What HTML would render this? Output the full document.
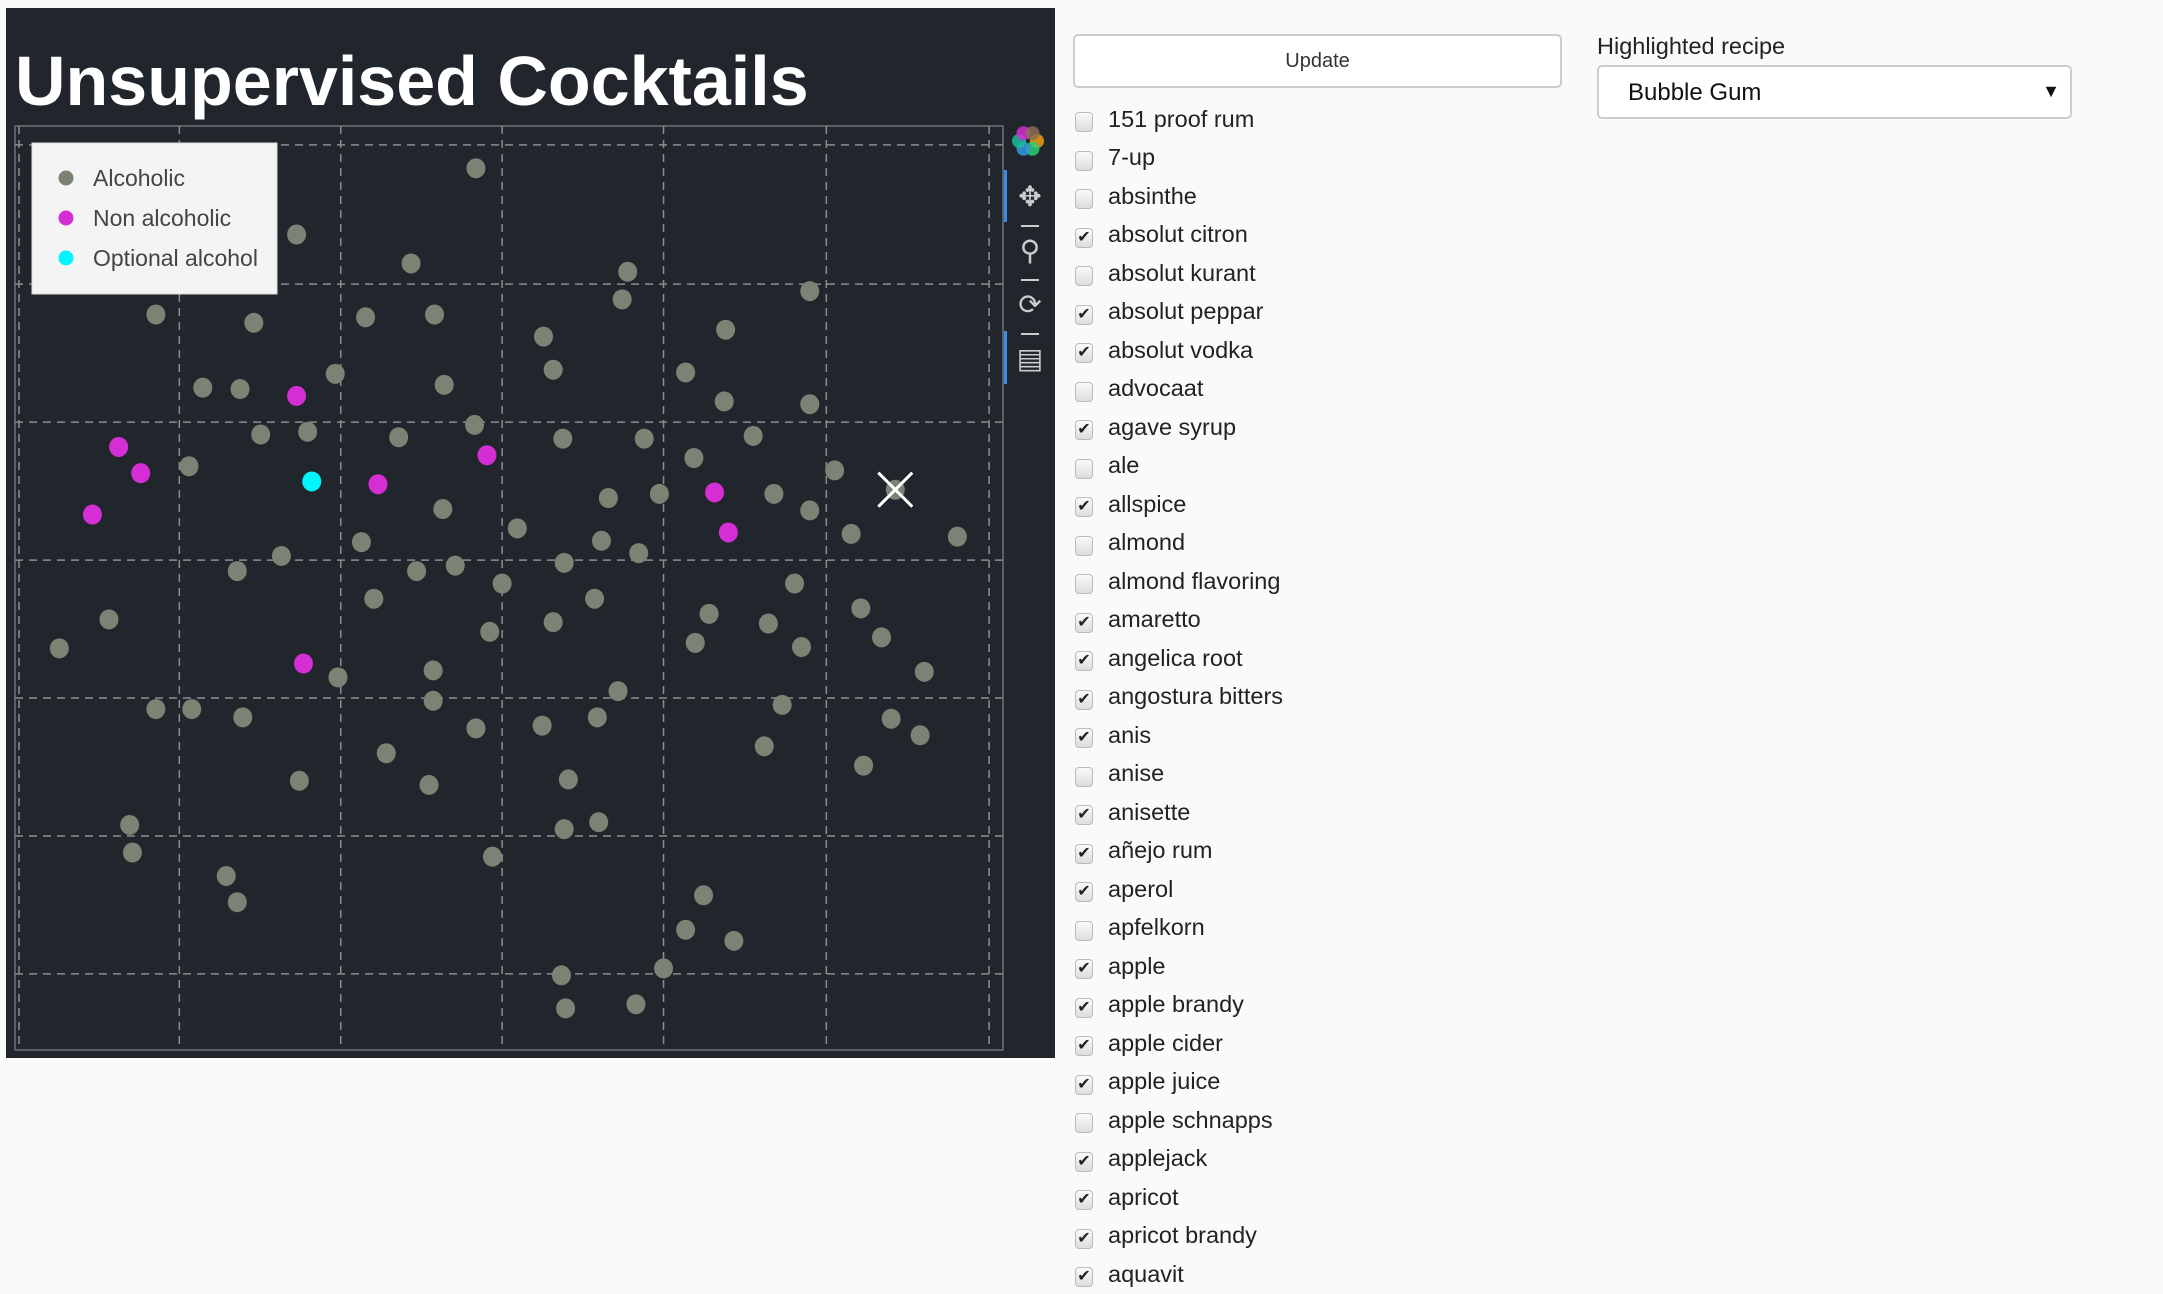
<!DOCTYPE html>
<html><head><meta charset="utf-8">
<style>
body{margin:0;background:#fafafa;width:2163px;height:1274px;overflow:hidden;font-family:"Liberation Sans",sans-serif;position:relative}
#panel{position:absolute;left:6px;top:8px;width:1049px;height:1050px;background:#20262b}
#title{position:absolute;left:9px;top:33px;font:bold 70px "Liberation Sans",sans-serif;color:#fff;white-space:nowrap;margin:0}
#chart{position:absolute;left:0;top:0}
#upd{position:absolute;left:1073px;top:34px;width:489px;height:54px;border:2px solid #ccc;border-radius:5px;background:#fff;font-size:20px;color:#333;box-sizing:border-box}
#list{position:absolute;left:1073px;top:100px}
.it{height:38.5px;display:flex;align-items:center;font-size:23.5px;color:#222}
.cb{width:18px;height:20px;border:1px solid #bbb;border-radius:4px;background:linear-gradient(#fafafa,#ddd);margin:0 15px 0 2px;position:relative;top:3px;box-sizing:border-box;font-size:16px;line-height:18px;text-align:center;color:#222}
#hl{position:absolute;left:1597px;top:33px;font-size:23.5px;color:#222}
#sel{position:absolute;left:1597px;top:65px;width:475px;height:54px;border:2px solid #ccc;border-radius:5px;background:#fff;box-sizing:border-box;font-size:24px;color:#111;padding:12px 0 0 29px}
#sel span{position:absolute;right:10px;top:14px;font-size:18px}
</style></head><body>
<div id="panel">
<svg id="chart" width="1049" height="1050"></svg>
<h1 id="title">Unsupervised Cocktails</h1>
</div>
<button id="upd">Update</button>
<div id="list"></div>
<div id="hl">Highlighted recipe</div>
<div id="sel">Bubble Gum<span>▼</span></div>
<script>
// data in embedding units
const alcX=[345,215,298,455,451,587,113,184,265,315,394,526,401,497,147,174,243,322,525,587,344,189,223,289,408,467,546,503,137,605,441,478,561,587,321,375,617,694,262,436,463,204,172,302,330,409,364,576,271,431,624,79,514,401,557,355,639,504,581,43,670,245,314,448,314,113,139,176,567,345,393,433,646,667,554,280,626,217,311,412,94,409,434,96,357,164,172,510,497,532,481,407,410,461,649];
const alcY=[122,170,191,197,217,211,228,234,230,228,244,239,268,270,281,282,271,279,291,293,308,315,313,317,318,318,316,332,338,341,361,358,358,370,369,383,387,389,393,392,401,403,414,414,410,408,423,423,434,434,441,449,445,451,452,458,462,466,469,470,487,491,486,501,508,514,514,520,511,528,526,520,521,533,541,546,555,566,569,565,598,601,596,618,621,635,654,649,674,682,702,707,731,728,355];
const nonX=[86,102,67,215,274,353,518,528,220];
const nonY=[324,343,373,287,351,330,357,386,481];
const optX=[226];
const optY=[349];
const hlX=[649], hlY=[355];
const gridX=[130,247,364,481,599,717];
const gridY=[105,206,306,406,506,606,706];
const K=1.3795;
const xs=v=>v*K-6, ys=v=>v*K-8;
const NS='http://www.w3.org/2000/svg';
const svg=document.getElementById('chart');
function mk(t,a){const e=document.createElementNS(NS,t);for(const k in a)e.setAttribute(k,a[k]);svg.appendChild(e);return e;}
const fr=mk('rect',{x:9,y:118,width:988,height:924,fill:'none',stroke:'#5a5f63','stroke-width':2});


gridX.forEach(g=>{const l=mk('line',{x1:xs(g),x2:xs(g),y1:118,y2:1042,stroke:'#8a8d8f','stroke-width':1.5,'stroke-dasharray':'8,6'});

});
mk('line',{x1:13,x2:13,y1:118,y2:1042,stroke:'#8a8d8f','stroke-width':1.5,'stroke-dasharray':'8,6'});
gridY.forEach(g=>{const l=mk('line',{x1:9,x2:997,y1:ys(g),y2:ys(g),stroke:'#8a8d8f','stroke-width':1.5,'stroke-dasharray':'8,6'});

});
function pts(X,Y,c,name){X.forEach((x,i)=>{const e=mk('ellipse',{cx:xs(x),cy:ys(Y[i]),rx:9.5,ry:10,fill:c});

});}
pts(alcX,alcY,'#7b8374','point-alcoholic');
pts(nonX,nonY,'#d42ed4','point-non-alcoholic');
pts(optX,optY,'#00f5ff','point-optional-alcohol');
hlX.forEach((x,i)=>{const cx=xs(x),cy=ys(hlY[i]);
const g=mk('path',{d:`M${cx-17} ${cy-17}L${cx+17} ${cy+17}M${cx+17} ${cy-17}L${cx-17} ${cy+17}`,stroke:'#fff','stroke-width':3});

});
// legend
const lg=mk('rect',{x:26,y:135,width:245,height:151,fill:'#f4f4f4',stroke:'#ddd'});


[['Alcoholic','#7b8374'],['Non alcoholic','#d42ed4'],['Optional alcohol','#00f5ff']].forEach((d,i)=>{
mk('circle',{cx:60,cy:170+i*40,r:7.5,fill:d[1]});
const t=mk('text',{x:87,y:178+i*40,'font-size':23,fill:'#444','font-family':'Liberation Sans, sans-serif'});t.textContent=d[0];

});
// toolbar
const logo=[['#f39c12',0],['#2ecc71',60],['#3498db',120],['#1abc9c',180],['#d42ed4',240],['#8e6e53',300]];
logo.forEach(l=>{const a=l[1]*Math.PI/180;mk('circle',{cx:1022+9*Math.cos(a),cy:133+9*Math.sin(a),r:7,fill:l[0],opacity:.85});});
mk('rect',{x:998,y:162,width:3,height:52,fill:'#3a8ee6'});
mk('rect',{x:998,y:323,width:3,height:53,fill:'#3a8ee6'});
[[188,'✥'],[242,'⚲'],[296,'⟳'],[350,'▤']].forEach((d,i)=>{const t=mk('text',{x:1024,y:d[0]+10,'font-size':28,fill:'#ccc','text-anchor':'middle'});t.textContent=d[1];


if(i<3)mk('rect',{x:1015,y:d[0]+29,width:18,height:2,fill:'#ccc'});});
// list
const items=[['151 proof rum',0],['7-up',0],['absinthe',0],['absolut citron',1],['absolut kurant',0],['absolut peppar',1],['absolut vodka',1],['advocaat',0],['agave syrup',1],['ale',0],['allspice',1],['almond',0],['almond flavoring',0],['amaretto',1],['angelica root',1],['angostura bitters',1],['anis',1],['anise',0],['anisette',1],['añejo rum',1],['aperol',1],['apfelkorn',0],['apple',1],['apple brandy',1],['apple cider',1],['apple juice',1],['apple schnapps',0],['applejack',1],['apricot',1],['apricot brandy',1],['aquavit',1]];
const L=document.getElementById('list');
items.forEach(d=>{const r=document.createElement('div');r.className='it';


r.innerHTML='<span class="cb">'+(d[1]?'✔':'')+'</span>'+d[0];L.appendChild(r);});
</script>
</body></html>
